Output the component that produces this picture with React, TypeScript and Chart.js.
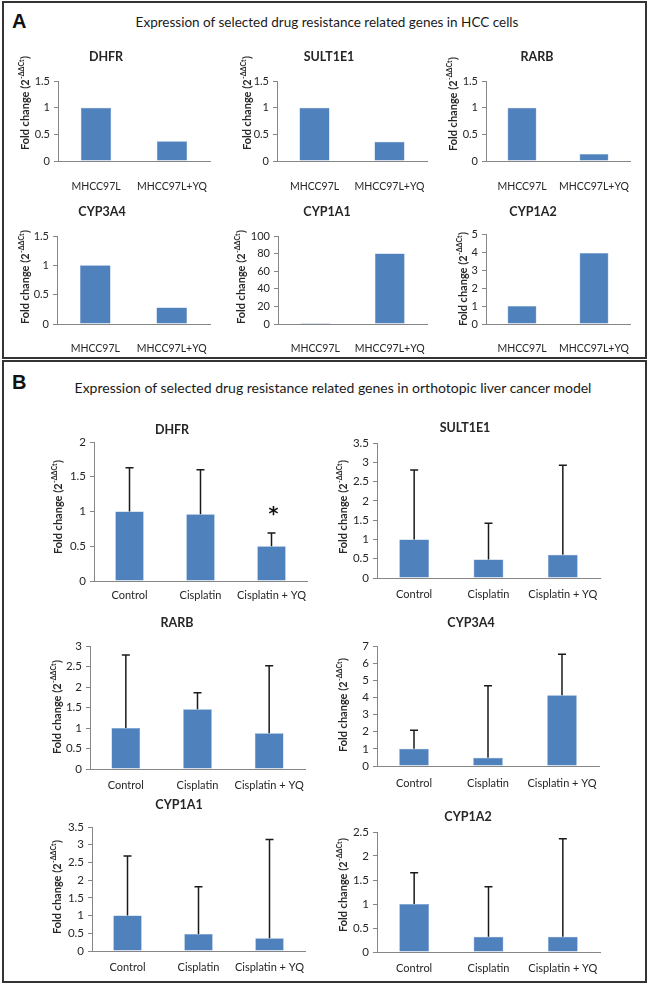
import React, { useEffect, useRef } from 'react';
import { Chart, registerables } from 'chart.js';
Chart.register(...registerables);

// ---------- data ----------
const cellLabels = ['MHCC97L', 'MHCC97L+YQ'];
const modelLabels = ['Control', 'Cisplatin', 'Cisplatin + YQ'];

const cellDHFR = [1, 0.37];
const cellSULT1E1 = [1, 0.36];
const cellRARB = [1, 0.13];
const cellCYP3A4 = [1, 0.28];
const cellCYP1A1 = [1, 80];
const cellCYP1A2 = [1, 3.95];

const modelDHFR = [1.0, 0.96, 0.5];
const modelDHFRErr = [1.63, 1.6, 0.69];
const modelDHFRMark = ['', '', '*'];
const modelSULT1E1 = [1.0, 0.48, 0.6];
const modelSULT1E1Err = [2.8, 1.42, 2.92];
const modelRARB = [1.0, 1.46, 0.87];
const modelRARBErr = [2.78, 1.86, 2.52];
const modelCYP3A4 = [1.0, 0.48, 4.12];
const modelCYP3A4Err = [2.08, 4.68, 6.52];
const modelCYP1A1 = [1.0, 0.48, 0.36];
const modelCYP1A1Err = [2.68, 1.81, 3.15];
const modelCYP1A2 = [1.0, 0.32, 0.32];
const modelCYP1A2Err = [1.65, 1.36, 2.36];

const noMark = ['', '', ''];

type Spec = {
  gene: string;
  labels: string[];
  values: number[];
  errors?: number[];
  marks?: string[];
  max: number;
  step: number;
  // layout (page coordinates)
  L: number; T: number; R: number; B: number;
  tx: number; ty: number; yx: number; yy: number;
  xOff: number; tickSize: number;
};

const specs: Spec[] = [
  { gene: 'DHFR', labels: cellLabels, values: cellDHFR, max: 1.5, step: 0.5, L: 58, T: 81, R: 210, B: 161, tx: 106, ty: 57, yx: 25, yy: 103, xOff: 24, tickSize: 10.5 },
  { gene: 'SULT1E1', labels: cellLabels, values: cellSULT1E1, max: 1.5, step: 0.5, L: 277, T: 81, R: 427, B: 161, tx: 329, ty: 57, yx: 247, yy: 103, xOff: 24, tickSize: 10.5 },
  { gene: 'RARB', labels: cellLabels, values: cellRARB, max: 1.5, step: 0.5, L: 486, T: 81, R: 630, B: 161, tx: 537, ty: 57, yx: 453, yy: 104, xOff: 24, tickSize: 10.5 },
  { gene: 'CYP3A4', labels: cellLabels, values: cellCYP3A4, max: 1.5, step: 0.5, L: 57, T: 236, R: 210, B: 324, tx: 102, ty: 212, yx: 25, yy: 277, xOff: 23, tickSize: 10.5 },
  { gene: 'CYP1A1', labels: cellLabels, values: cellCYP1A1, max: 100, step: 20, L: 278, T: 236, R: 427, B: 324, tx: 327, ty: 212, yx: 241, yy: 277, xOff: 23, tickSize: 10.5 },
  { gene: 'CYP1A2', labels: cellLabels, values: cellCYP1A2, max: 5, step: 1, L: 486, T: 234, R: 630, B: 324, tx: 533, ty: 212, yx: 463, yy: 279, xOff: 23, tickSize: 10.5 },

  { gene: 'DHFR', labels: modelLabels, values: modelDHFR, errors: modelDHFRErr, marks: modelDHFRMark, max: 2, step: 0.5, L: 94, T: 442, R: 307, B: 581, tx: 172, ty: 430, yx: 58, yy: 507, xOff: 12, tickSize: 11 },
  { gene: 'SULT1E1', labels: modelLabels, values: modelSULT1E1, errors: modelSULT1E1Err, marks: noMark, max: 3.5, step: 0.5, L: 377, T: 443, R: 600, B: 578, tx: 465, ty: 428, yx: 343, yy: 507, xOff: 15, tickSize: 11 },
  { gene: 'RARB', labels: modelLabels, values: modelRARB, errors: modelRARBErr, marks: noMark, max: 3, step: 0.5, L: 90, T: 646, R: 305, B: 769, tx: 177, ty: 623, yx: 57, yy: 707, xOff: 15, tickSize: 11 },
  { gene: 'CYP3A4', labels: modelLabels, values: modelCYP3A4, errors: modelCYP3A4Err, marks: noMark, max: 7, step: 1, L: 377, T: 646, R: 599, B: 766, tx: 471, ty: 623, yx: 343, yy: 705, xOff: 16, tickSize: 11 },
  { gene: 'CYP1A1', labels: modelLabels, values: modelCYP1A1, errors: modelCYP1A1Err, marks: noMark, max: 3.5, step: 0.5, L: 92, T: 827, R: 305, B: 951, tx: 179, ty: 805, yx: 57, yy: 887, xOff: 15, tickSize: 11 },
  { gene: 'CYP1A2', labels: modelLabels, values: modelCYP1A2, errors: modelCYP1A2Err, marks: noMark, max: 2.5, step: 0.5, L: 377, T: 832, R: 600, B: 952, tx: 468, ty: 817, yx: 343, yy: 885, xOff: 15, tickSize: 11 },
];

const FONT = 'Lato, "Open Sans", "Liberation Sans", sans-serif';
const BAR = '#4F81BD';
const AXIS = '#868686';
const TEXT = '#262626';

function MiniChart({ s }: { s: Spec }) {
  const ref = useRef<HTMLCanvasElement>(null);
  const cx = s.yx - 12;
  const cy = Math.min(s.ty - 14, s.T - 12);
  const cw = s.R - cx + 22;
  const ch = s.B - cy + 40;

  useEffect(() => {
    if (!ref.current) return;
    const decor = {
      id: 'decor',
      afterDatasetsDraw(chart: any) {
        const ctx = chart.ctx;
        const meta = chart.getDatasetMeta(0);
        const ys = chart.scales.y;
        ctx.save();
        if (s.errors) {
          ctx.strokeStyle = '#1a1a1a';
          ctx.lineWidth = 1.5;
          s.errors.forEach((e, i) => {
            const el = meta.data[i];
            const x = el.x;
            const y0 = ys.getPixelForValue(s.values[i]);
            const y1 = ys.getPixelForValue(e);
            ctx.beginPath();
            ctx.moveTo(x, y0);
            ctx.lineTo(x, y1);
            ctx.moveTo(x - 4, y1);
            ctx.lineTo(x + 4, y1);
            ctx.stroke();
            const m = s.marks ? s.marks[i] : '';
            if (m) {
              ctx.fillStyle = '#111';
              ctx.font = `bold 19px "DejaVu Sans", sans-serif`;
              ctx.textAlign = 'center';
              ctx.textBaseline = 'middle';
              ctx.fillText(m, x + 2, y1 - 18);
            }
          });
        }
        ctx.restore();
      },
      afterDraw(chart: any) {
        const ctx = chart.ctx;
        ctx.save();
        // gene title
        ctx.fillStyle = TEXT;
        ctx.font = `bold 12.5px ${FONT}`;
        ctx.textAlign = 'center';
        ctx.textBaseline = 'middle';
        ctx.fillText(s.gene, s.tx - cx, s.ty - cy);
        // y-axis title with superscript
        ctx.translate(s.yx - cx, s.yy - cy);
        ctx.rotate(-Math.PI / 2);
        const main = 'Fold change (2';
        const sup = '-ΔΔCt';
        const end = ')';
        const fMain = `bold 11px ${FONT}`;
        const fSup = `bold 7px ${FONT}`;
        ctx.font = fMain;
        const wMain = ctx.measureText(main).width;
        const wEnd = ctx.measureText(end).width;
        ctx.font = fSup;
        const wSup = ctx.measureText(sup).width;
        const total = wMain + wSup + wEnd + 1;
        let x = -total / 2;
        ctx.textAlign = 'left';
        ctx.textBaseline = 'middle';
        ctx.font = fMain;
        ctx.fillText(main, x, 0);
        x += wMain + 0.5;
        ctx.font = fSup;
        ctx.fillText(sup, x, -3.5);
        x += wSup + 0.5;
        ctx.font = fMain;
        ctx.fillText(end, x, 0);
        ctx.restore();
      },
    };

    const chart = new Chart(ref.current, {
      type: 'bar',
      data: {
        labels: s.labels,
        datasets: [
          {
            data: s.values,
            backgroundColor: BAR,
            borderColor: '#6f97c9',
            borderWidth: 0.5,
            barPercentage: 0.4,
            categoryPercentage: 1,
          },
        ],
      },
      options: {
        responsive: false,
        animation: false,
        devicePixelRatio: 1,
        layout: {
          padding: { left: 0, top: s.T - cy, right: cw - (s.R - cx), bottom: 0 },
        },
        plugins: {
          legend: { display: false },
          tooltip: { enabled: false },
          title: { display: false },
        },
        scales: {
          x: {
            type: 'category',
            offset: true,
            grid: { display: false },
            border: { display: true, color: AXIS, width: 1 },
            ticks: {
              font: { family: FONT, size: s.tickSize },
              color: TEXT,
              padding: Math.max(s.xOff - 13, 0),
              maxRotation: 0,
              minRotation: 0,
              autoSkip: false,
            },
            afterFit: (sc: any) => {
              sc.height = ch - (s.B - cy);
            },
          },
          y: {
            min: 0,
            max: s.max,
            grid: {
              display: true,
              drawOnChartArea: false,
              drawTicks: true,
              tickLength: 4,
              color: AXIS,
            },
            border: { display: true, color: AXIS, width: 1 },
            ticks: {
              stepSize: s.step,
              font: { family: FONT, size: s.tickSize + 0.5 },
              color: TEXT,
              padding: 4,
              callback: (v: any) => String(v),
            },
            afterFit: (sc: any) => {
              sc.width = s.L - cx;
            },
          },
        },
      },
      plugins: [decor],
    });
    return () => chart.destroy();
  }, []);

  return (
    <canvas
      ref={ref}
      width={cw}
      height={ch}
      style={{ position: 'absolute', left: cx, top: cy, width: cw, height: ch }}
    />
  );
}

export default function App() {
  const boxStyle = (top: number, height: number): React.CSSProperties => ({
    position: 'absolute',
    left: 2,
    top,
    width: 641,
    height,
    border: '2px solid #333',
    boxSizing: 'content-box',
  });
  const header: React.CSSProperties = {
    position: 'absolute',
    left: 0,
    width: 650,
    textAlign: 'center',
    fontFamily: FONT,
    fontSize: 14,
    lineHeight: '20px',
    color: '#1a1a1a',
    whiteSpace: 'nowrap',
  };
  const letter: React.CSSProperties = {
    position: 'absolute',
    fontFamily: '"Liberation Sans", Arial, sans-serif',
    fontWeight: 'bold',
    fontSize: 20,
    lineHeight: '24px',
    color: '#111',
  };
  return (
    <div style={{ position: 'absolute', left: 0, top: 0, width: 650, height: 987, background: '#fff', overflow: 'hidden' }}>
      <div style={boxStyle(1, 354)} />
      <div style={boxStyle(360, 619)} />
      <div style={{ ...letter, left: 12, top: 9 }}>A</div>
      <div style={{ ...letter, left: 12, top: 370 }}>B</div>
      <div style={{ ...header, top: 12, left: 2, fontSize: 13.5 }}>Expression of selected drug resistance related genes in HCC cells</div>
      <div style={{ ...header, top: 378, left: 8 }}>
        Expression of selected drug resistance related genes in orthotopic liver cancer model
      </div>
      {specs.map((s, i) => (
        <MiniChart key={i} s={s} />
      ))}
    </div>
  );
}
